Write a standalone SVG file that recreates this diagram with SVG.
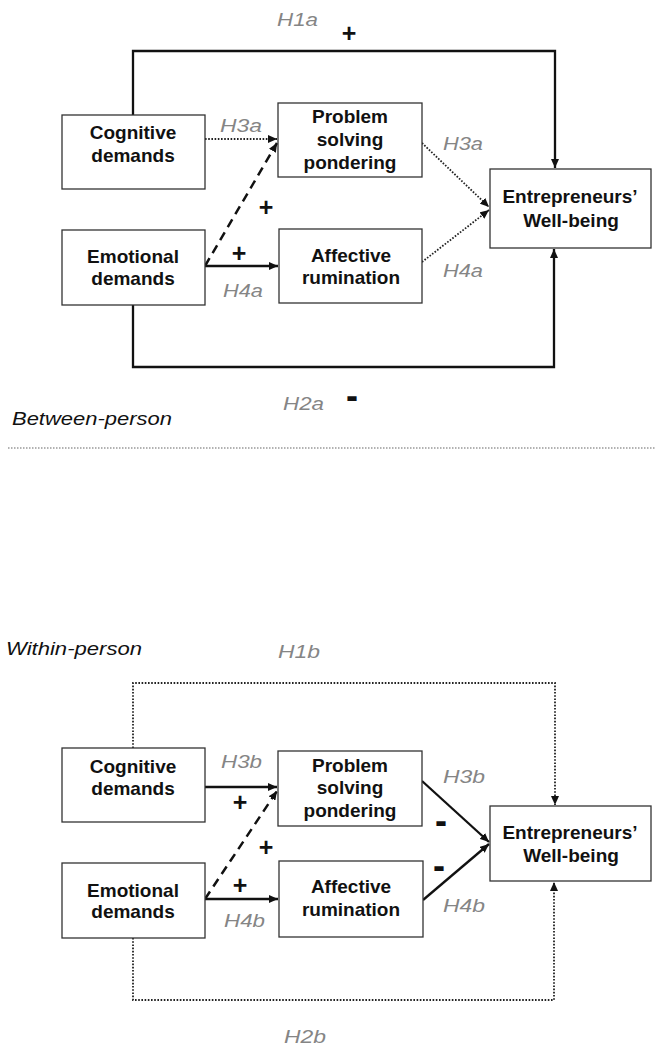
<svg xmlns="http://www.w3.org/2000/svg" width="656" height="1048" viewBox="0 0 656 1048">
<style>
.box{fill:#fff;stroke:#333;stroke-width:1.3}
.nt{font-family:"Liberation Sans",Arial,sans-serif;font-weight:bold;font-size:19px;fill:#111;text-anchor:middle}
.hl{font-family:"Liberation Sans",Arial,sans-serif;font-style:italic;font-size:18px;fill:#858585}
.sec{font-family:"Liberation Sans",Arial,sans-serif;font-style:italic;font-size:18.5px;fill:#111}
.sg{font-family:"Liberation Sans",Arial,sans-serif;font-weight:bold;font-size:25px;fill:#111;text-anchor:middle}
.mn{font-family:"Liberation Sans",Arial,sans-serif;font-weight:bold;font-size:38px;fill:#111}
.solid{fill:none;stroke:#111;stroke-width:2.3}
.dot{fill:none;stroke:#222;stroke-width:1.8;stroke-dasharray:1.6 1.6}
.dash{fill:none;stroke:#111;stroke-width:2.5;stroke-dasharray:9 6}
</style>
<defs>
<marker id="ar" markerUnits="userSpaceOnUse" markerWidth="10" markerHeight="8" refX="9" refY="4" orient="auto">
<path d="M0,0 L9,4 L0,8 z" fill="#111"/>
</marker>
</defs>

<g id="connectors">
<path class="solid" d="M133,115 V51 H555 V168" marker-end="url(#ar)"/>
<path class="solid" d="M133,305 V367 H554 V249" marker-end="url(#ar)"/>
<path class="dot" d="M205,139 H277" marker-end="url(#ar)"/>
<path class="dash" d="M205,266 L277,143" marker-end="url(#ar)"/>
<path class="solid" d="M205,266 H278" marker-end="url(#ar)"/>
<path class="dot" d="M422,143 L489,207" marker-end="url(#ar)"/>
<path class="dot" d="M422,262 L489,210" marker-end="url(#ar)"/>

<path class="dot" d="M133,748 V683 H555 V805" marker-end="url(#ar)"/>
<path class="dot" d="M133,938 V1000 H554 V882" marker-end="url(#ar)"/>
<path class="solid" d="M205,787 H277" marker-end="url(#ar)"/>
<path class="dash" d="M205,899 L277,791" marker-end="url(#ar)"/>
<path class="solid" d="M205,899 H278" marker-end="url(#ar)"/>
<path class="solid" d="M422,781 L489,842" marker-end="url(#ar)"/>
<path class="solid" d="M423,900 L489,844" marker-end="url(#ar)"/>
</g>

<g id="separator">
<line x1="8" y1="448" x2="656" y2="448" stroke="#999" stroke-width="1.5" stroke-dasharray="1.5 1.5"/>
</g>

<g id="labels">
<text class="hl" x="277" y="26" textLength="41" lengthAdjust="spacingAndGlyphs">H1a</text>
<text class="sg" x="349" y="42">+</text>
<text class="hl" x="220" y="132" textLength="42" lengthAdjust="spacingAndGlyphs">H3a</text>
<text class="hl" x="443" y="150" textLength="40" lengthAdjust="spacingAndGlyphs">H3a</text>
<text class="sg" x="266" y="216">+</text>
<text class="sg" x="239" y="262">+</text>
<text class="hl" x="223" y="297" textLength="40" lengthAdjust="spacingAndGlyphs">H4a</text>
<text class="hl" x="443" y="277" textLength="40" lengthAdjust="spacingAndGlyphs">H4a</text>
<text class="hl" x="283" y="410" textLength="41" lengthAdjust="spacingAndGlyphs">H2a</text>
<text class="mn" x="346" y="409" textLength="12" lengthAdjust="spacingAndGlyphs">-</text>
<text class="sec" x="12" y="425" textLength="160" lengthAdjust="spacingAndGlyphs">Between-person</text>

<text class="sec" x="6" y="655" textLength="136" lengthAdjust="spacingAndGlyphs">Within-person</text>
<text class="hl" x="278" y="658" textLength="42" lengthAdjust="spacingAndGlyphs">H1b</text>
<text class="hl" x="221" y="768" textLength="41" lengthAdjust="spacingAndGlyphs">H3b</text>
<text class="sg" x="240" y="811">+</text>
<text class="hl" x="443" y="783" textLength="42" lengthAdjust="spacingAndGlyphs">H3b</text>
<text class="mn" x="435" y="834" textLength="12" lengthAdjust="spacingAndGlyphs">-</text>
<text class="sg" x="266" y="856">+</text>
<text class="sg" x="240" y="894">+</text>
<text class="mn" x="433" y="879" textLength="12" lengthAdjust="spacingAndGlyphs">-</text>
<text class="hl" x="224" y="927" textLength="41" lengthAdjust="spacingAndGlyphs">H4b</text>
<text class="hl" x="443" y="912" textLength="42" lengthAdjust="spacingAndGlyphs">H4b</text>
<text class="hl" x="284" y="1043" textLength="42" lengthAdjust="spacingAndGlyphs">H2b</text>
</g>

<g id="cognitive-a">
<rect class="box" x="62" y="115" width="143" height="74"/>
<text class="nt" x="133" y="139">Cognitive</text>
<text class="nt" x="133" y="162">demands</text>
</g>
<g id="problem-a">
<rect class="box" x="278" y="103" width="144" height="74"/>
<text class="nt" x="350" y="123">Problem</text>
<text class="nt" x="350" y="146">solving</text>
<text class="nt" x="350" y="169">pondering</text>
</g>
<g id="wellbeing-a">
<rect class="box" x="490" y="169" width="161" height="79"/>
<text class="nt" x="570" y="203">Entrepreneurs’</text>
<text class="nt" x="571" y="227">Well-being</text>
</g>
<g id="emotional-a">
<rect class="box" x="62" y="230" width="143" height="75"/>
<text class="nt" x="133" y="263">Emotional</text>
<text class="nt" x="133" y="285">demands</text>
</g>
<g id="affective-a">
<rect class="box" x="279" y="229" width="143" height="74"/>
<text class="nt" x="351" y="262">Affective</text>
<text class="nt" x="351" y="284">rumination</text>
</g>

<g id="cognitive-b">
<rect class="box" x="62" y="748" width="143" height="74"/>
<text class="nt" x="133" y="773">Cognitive</text>
<text class="nt" x="133" y="795">demands</text>
</g>
<g id="problem-b">
<rect class="box" x="278" y="751" width="144" height="75"/>
<text class="nt" x="350" y="772">Problem</text>
<text class="nt" x="350" y="794">solving</text>
<text class="nt" x="350" y="817">pondering</text>
</g>
<g id="wellbeing-b">
<rect class="box" x="490" y="806" width="161" height="75"/>
<text class="nt" x="570" y="839">Entrepreneurs’</text>
<text class="nt" x="571" y="862">Well-being</text>
</g>
<g id="emotional-b">
<rect class="box" x="62" y="863" width="143" height="75"/>
<text class="nt" x="133" y="897">Emotional</text>
<text class="nt" x="133" y="918">demands</text>
</g>
<g id="affective-b">
<rect class="box" x="279" y="861" width="144" height="76"/>
<text class="nt" x="351" y="893">Affective</text>
<text class="nt" x="351" y="916">rumination</text>
</g>
</svg>
